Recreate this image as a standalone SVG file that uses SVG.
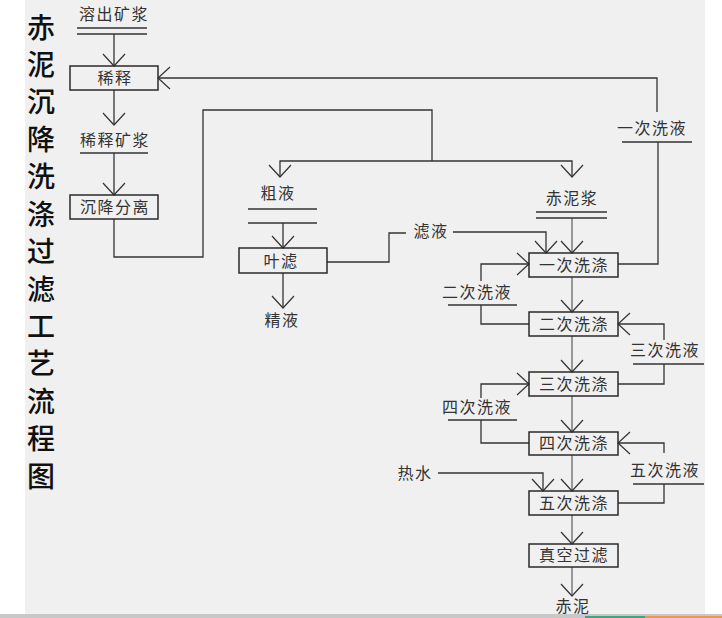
<svg xmlns="http://www.w3.org/2000/svg" width="722" height="618" viewBox="0 0 722 618">
<style>
.t{font-family:"Noto Sans CJK SC","Noto Sans",sans-serif;font-size:16px;fill:#333;text-anchor:middle;letter-spacing:1.5px}
.title{font-family:"Noto Sans CJK SC","Noto Sans",sans-serif;font-size:28px;font-weight:500;fill:#111;text-anchor:middle}
.box{fill:none;stroke:#2a2a2a;stroke-width:1.5}
.ul{stroke:#333;stroke-width:1.4}
.c{fill:none;stroke:#333;stroke-width:1.3}
.v{fill:none;stroke:#666;stroke-width:1.3}
</style>
<defs>
<marker id="a" markerUnits="userSpaceOnUse" markerWidth="30" markerHeight="30" refX="15" refY="15" orient="auto" viewBox="0 0 30 30">
<path d="M3,4 L15,15 L3,26" fill="none" stroke="#333" stroke-width="1.2"/>
</marker>
</defs>
<rect x="0" y="0" width="722" height="618" fill="#fff"/>
<rect x="25" y="0" width="680" height="614" fill="#f0f0f0"/>
<rect x="0" y="614" width="722" height="4" fill="#c8c8c8"/>
<rect x="585" y="616" width="60" height="2" fill="#3fa47f"/>
<rect x="645" y="616" width="77" height="2" fill="#e89a4a"/>

<g id="title">
<text class="title"><tspan x="41" y="38">赤</tspan><tspan x="41" y="75">泥</tspan><tspan x="41" y="112">沉</tspan><tspan x="41" y="150">降</tspan><tspan x="41" y="187">洗</tspan><tspan x="41" y="225">涤</tspan><tspan x="41" y="262">过</tspan><tspan x="41" y="300">滤</tspan><tspan x="41" y="337">工</tspan><tspan x="41" y="374">艺</tspan><tspan x="41" y="412">流</tspan><tspan x="41" y="449">程</tspan><tspan x="41" y="487">图</tspan></text>
</g>

<g id="connectors">
<path class="c" d="M114,34 V66" marker-end="url(#a)"/>
<path class="c" d="M114,90 V125" marker-end="url(#a)"/>
<path class="c" d="M114,153 V195" marker-end="url(#a)"/>
<path class="c" d="M114,219 V257 H203 V110 H432 V161"/>
<path class="c" d="M432,161 H280 V177" marker-end="url(#a)"/>
<path class="c" d="M432,161 H572 V177" marker-end="url(#a)"/>
<path class="c" d="M283,223 V248" marker-end="url(#a)"/>
<path class="c" d="M283,273 V308" marker-end="url(#a)"/>
<path class="c" d="M327,262 H389 V233 H406"/>
<path class="c" d="M453,232 H546 V253" marker-end="url(#a)"/>
<path class="v" d="M572,218 V253" marker-end="url(#a)"/>
<path class="c" d="M618,264 H658 V142"/>
<path class="c" d="M657,112 V78 H158" marker-end="url(#a)"/>
<path class="v" d="M572,277 V312" marker-end="url(#a)"/>
<path class="c" d="M529,324 H481 V305"/>
<path class="c" d="M481,281 V264 H529" marker-end="url(#a)"/>
<path class="v" d="M572,336 V372" marker-end="url(#a)"/>
<path class="c" d="M618,384 H664 V364"/>
<path class="c" d="M664,340 V324 H618" marker-end="url(#a)"/>
<path class="v" d="M572,396 V432" marker-end="url(#a)"/>
<path class="c" d="M529,443 H481 V420"/>
<path class="c" d="M481,398 V384 H529" marker-end="url(#a)"/>
<path class="v" d="M572,455 V491" marker-end="url(#a)"/>
<path class="c" d="M618,503 H664 V484"/>
<path class="c" d="M664,453 V443 H618" marker-end="url(#a)"/>
<path class="c" d="M438,473 H543 V491" marker-end="url(#a)"/>
<path class="v" d="M572,515 V544" marker-end="url(#a)"/>
<path class="v" d="M572,567 V596" marker-end="url(#a)"/>
</g>

<g id="n-rongchu"><text class="t" x="114" y="20">溶出矿浆</text><line class="ul" x1="77" y1="28" x2="147" y2="28"/><line class="ul" x1="77" y1="34" x2="147" y2="34"/></g>
<g id="n-xishi"><rect class="box" x="70" y="66" width="88" height="24"/><text class="t" x="115" y="84">稀释</text></g>
<g id="n-xishikuangjiang"><text class="t" x="115" y="146">稀释矿浆</text><line class="ul" x1="80" y1="153" x2="148" y2="153"/></g>
<g id="n-chenjiang"><rect class="box" x="70" y="195" width="88" height="24"/><text class="t" x="115" y="213">沉降分离</text></g>
<g id="n-cuye"><text class="t" x="278" y="199">粗液</text><line class="ul" x1="248" y1="209" x2="317" y2="209"/><line class="ul" x1="248" y1="223" x2="317" y2="223"/></g>
<g id="n-yelv"><rect class="box" x="239" y="248" width="88" height="25"/><text class="t" x="281" y="267">叶滤</text></g>
<g id="n-jingye"><text class="t" x="282" y="326">精液</text></g>
<g id="n-lvye"><text class="t" x="431" y="237">滤液</text></g>
<g id="n-chinijiang"><text class="t" x="572" y="204">赤泥浆</text><line class="ul" x1="536" y1="212" x2="607" y2="212"/><line class="ul" x1="536" y1="218" x2="607" y2="218"/></g>
<g id="n-yicixiye"><text class="t" x="652" y="134">一次洗液</text><line class="ul" x1="622" y1="142" x2="692" y2="142"/></g>
<g id="n-yicixidi"><rect class="box" x="529" y="253" width="89" height="24"/><text class="t" x="574" y="271">一次洗涤</text></g>
<g id="n-ercixiye"><text class="t" x="477" y="298">二次洗液</text><line class="ul" x1="448" y1="305" x2="517" y2="305"/></g>
<g id="n-ercixidi"><rect class="box" x="529" y="312" width="89" height="24"/><text class="t" x="574" y="330">二次洗涤</text></g>
<g id="n-sancixiye"><text class="t" x="665" y="356">三次洗液</text><line class="ul" x1="633" y1="364" x2="704" y2="364"/></g>
<g id="n-sancixidi"><rect class="box" x="529" y="372" width="89" height="24"/><text class="t" x="574" y="390">三次洗涤</text></g>
<g id="n-sicixiye"><text class="t" x="477" y="413">四次洗液</text><line class="ul" x1="448" y1="420" x2="517" y2="420"/></g>
<g id="n-sicixidi"><rect class="box" x="529" y="432" width="89" height="23"/><text class="t" x="574" y="449">四次洗涤</text></g>
<g id="n-wucixiye"><text class="t" x="665" y="476">五次洗液</text><line class="ul" x1="633" y1="484" x2="704" y2="484"/></g>
<g id="n-wucixidi"><rect class="box" x="529" y="491" width="89" height="24"/><text class="t" x="574" y="509">五次洗涤</text></g>
<g id="n-reshui"><text class="t" x="415" y="479">热水</text></g>
<g id="n-zhenkong"><rect class="box" x="529" y="544" width="89" height="23"/><text class="t" x="574" y="561">真空过滤</text></g>
<g id="n-chini"><text class="t" x="573" y="612">赤泥</text></g>
</svg>
